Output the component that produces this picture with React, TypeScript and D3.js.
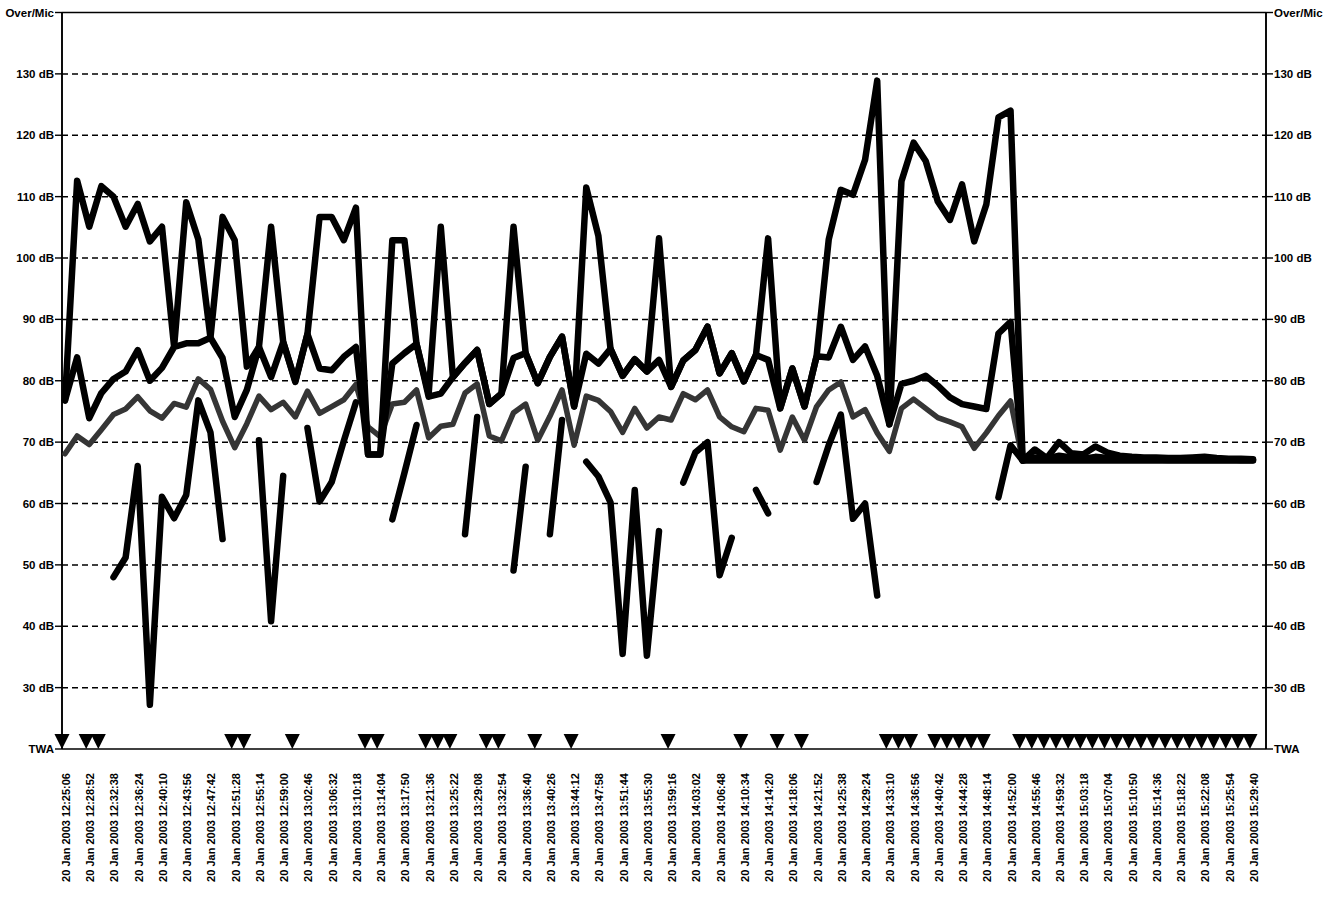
import React from 'react';
import * as d3 from 'd3';

const timeLabels = [
  '12:25:06','12:28:52','12:32:38','12:36:24','12:40:10','12:43:56','12:47:42','12:51:28','12:55:14','12:59:00',
  '13:02:46','13:06:32','13:10:18','13:14:04','13:17:50','13:21:36','13:25:22','13:29:08','13:32:54','13:36:40',
  '13:40:26','13:44:12','13:47:58','13:51:44','13:55:30','13:59:16','14:03:02','14:06:48','14:10:34','14:14:20',
  '14:18:06','14:21:52','14:25:38','14:29:24','14:33:10','14:36:56','14:40:42','14:44:28','14:48:14','14:52:00',
  '14:55:46','14:59:32','15:03:18','15:07:04','15:10:50','15:14:36','15:18:22','15:22:08','15:25:54','15:29:40',
];
const datePrefix = '20 Jan 2003';

const yTickValues = [20, 30, 40, 50, 60, 70, 80, 90, 100, 110, 120, 130, 140];
const yTickLabels = ['TWA', '30 dB', '40 dB', '50 dB', '60 dB', '70 dB', '80 dB', '90 dB', '100 dB', '110 dB', '120 dB', '130 dB', 'Over/Mic'];

const maxLevel = [
  76.8, 112.6, 105.1, 111.7, 110, 105.1, 108.8, 102.7, 105.1, 85.5,
  109.1, 103, 87, 106.7, 102.9, 82.3, 85.5, 105.1, 86.3, 80,
  87.6, 106.7, 106.7, 102.9, 108.2, 68, 68, 102.9, 102.9, 86,
  77.9, 105.1, 80.6, 82.9, 85, 76.2, 77.9, 105.1, 84.5, 79.6,
  83.9, 87.2, 75.8, 111.5, 103.6, 85.2, 80.8, 83.5, 81.5, 103.2,
  79, 83.3, 85, 88.8, 81.2, 84.5, 79.9, 84.2, 103.2, 75.5,
  82, 75.8, 84, 103, 111.1, 110.3, 116, 128.9, 72.9, 112.5,
  118.8, 115.8, 109.2, 106.2, 112, 102.7, 108.7, 122.9, 124, 67,
  68.8, 67.4, 70, 68.2, 68, 69.3, 68.3, 67.8, 67.6, 67.5,
  67.5, 67.4, 67.4, 67.5, 67.6, 67.4, 67.3, 67.3, 67.2,
];

const leqLevel = [
  76.8, 83.8, 73.9, 78, 80.3, 81.5, 85, 80, 82.1, 85.5,
  86.1, 86.1, 87, 83.7, 74.1, 78.5, 85.5, 80.6, 86.3, 79.8,
  87.6, 82, 81.7, 83.9, 85.5, 68, 68, 82.8, 84.5, 86,
  77.4, 77.9, 80.6, 82.9, 85, 76.2, 77.9, 83.7, 84.5, 79.6,
  83.9, 87.2, 75.8, 84.4, 82.8, 85.2, 80.8, 83.5, 81.5, 83.4,
  79, 83.3, 85, 88.8, 81.2, 84.5, 79.9, 84.2, 83.4, 75.5,
  82, 75.8, 84, 83.8, 88.8, 83.4, 85.6, 80.8, 72.9, 79.5,
  80, 80.8, 79.2, 77.3, 76.2, 75.8, 75.4, 87.7, 89.6, 67,
  67.5, 67.3, 67.8, 67.5, 67.3, 67.6, 67.4, 67.3, 67.3, 67.3,
  67.2, 67.3, 67.2, 67.3, 67.3, 67.2, 67.2, 67.1, 67.1,
];

const twaLevel = [
  68.1, 71, 69.6, 72, 74.5, 75.4, 77.4, 75.1, 73.9, 76.3,
  75.7, 80.3, 78.6, 73.4, 69.1, 73, 77.5, 75.3, 76.5, 74.1,
  78.3, 74.7, 75.8, 76.9, 79.4, 72.5, 70.9, 76.2, 76.5, 78.5,
  70.7, 72.6, 72.9, 78, 79.5, 71, 70.2, 74.8, 76.2, 70.3,
  74.2, 78.5, 69.5, 77.5, 76.8, 75, 71.6, 75.5, 72.3, 74.1,
  73.6, 77.9, 76.9, 78.5, 74.1, 72.5, 71.7, 75.5, 75.2, 68.7,
  74.1, 70.3, 75.8, 78.5, 79.8, 74.1, 75.3, 71.5, 68.5, 75.5,
  77, 75.5, 74, 73.3, 72.5, 69, 71.5, 74.3, 76.7, 67,
  67.2, 67.2, 67.3, 67.2, 67.2, 67.2, 67.1, 67.1, 67.1, 67.1,
  67.1, 67, 67, 67, 67, 67, 67, 67, 67,
];

const minLevel: (number | null)[] = [
  null, null, null, null, 48, 51.2, 66.1, 27.2, 61.1, 57.6,
  61.4, 76.8, 71.6, 54.2, null, null, 70.3, 40.8, 64.5, null,
  72.3, 60.3, 63.5, 70.2, 76.5, null, null, 57.4, 65, 72.8,
  null, null, null, 55, 74.1, null, null, 49.1, 66, null,
  55, 73.6, null, 66.8, 64.4, 60.2, 35.5, 62.2, 35.2, 55.5,
  null, 63.4, 68.3, 70, 48.3, 54.4, null, 62.2, 58.4, null,
  null, null, 63.5, 69.5, 74.5, 57.5, 60, 45, null, null,
  null, null, null, null, null, null, null, 61, 69.5, 67,
  67, 67, 67, 67, 67, 67, 67, 67, 67, 67,
  67, 67, 67, 67, 67, 67, 67, 67, 67,
];

const twaMarkers = [
  0, 2, 3, 14, 15, 19, 25, 26, 30, 31, 32, 35, 36, 39, 42, 50, 56, 59, 61,
  68, 69, 70, 72, 73, 74, 75, 76,
  79, 80, 81, 82, 83, 84, 85, 86, 87, 88, 89, 90, 91, 92, 93, 94, 95, 96, 97, 98,
];

const W = 1334;
const H = 907;
const plotLeft = 62;
const plotRight = 1266;
const FONT = '"Liberation Sans", Arial, Helvetica, sans-serif';

export default function App() {
  const yScale = d3.scaleLinear().domain([20, 140]).range([749, 12.5]);
  const xScale = d3.scaleLinear().domain([0, maxLevel.length - 1]).range([65, 1253]);

  const line = d3
    .line<number | null>()
    .defined((d) => d !== null)
    .x((_, i) => xScale(i))
    .y((d) => yScale(d as number));

  const yBottom = yScale(20);
  const triH = 15;
  const triW = 15;

  return (
    <svg
      width={W}
      height={H}
      viewBox={`0 0 ${W} ${H}`}
      style={{ position: 'absolute', left: 0, top: 0, background: '#fff' }}
      fontFamily={FONT}
    >
      <rect x={0} y={0} width={W} height={H} fill="#fff" />
      {yTickValues.map((v) => {
        const y = yScale(v);
        const solid = v === 20 || v === 140;
        return (
          <line
            key={'g' + v}
            x1={plotLeft}
            x2={plotRight}
            y1={y}
            y2={y}
            stroke="#000"
            strokeWidth={solid ? 1.7 : 1.5}
            strokeDasharray={solid ? undefined : '6,4'}
          />
        );
      })}
      <line x1={plotLeft} x2={plotLeft} y1={yScale(140)} y2={yBottom} stroke="#000" strokeWidth={1.9} />
      <line x1={plotRight} x2={plotRight} y1={yScale(140)} y2={yBottom} stroke="#000" strokeWidth={1.9} />
      {yTickValues.map((v, k) => {
        const y = yScale(v);
        return (
          <g key={'t' + v}>
            <line x1={plotLeft - 7} x2={plotLeft} y1={y} y2={y} stroke="#000" strokeWidth={1.4} />
            <line x1={plotRight} x2={plotRight + 7} y1={y} y2={y} stroke="#000" strokeWidth={1.4} />
            <text x={plotLeft - 8} y={y} dy="0.35em" textAnchor="end" fontSize={11.5} fontWeight="bold">
              {yTickLabels[k]}
            </text>
            <text x={plotRight + 8} y={y} dy="0.35em" textAnchor="start" fontSize={11.5} fontWeight="bold">
              {yTickLabels[k]}
            </text>
          </g>
        );
      })}
      <path d={line(twaLevel) || ''} fill="none" stroke="#353535" strokeWidth={5.5} strokeLinejoin="round" strokeLinecap="round" />
      <path d={line(minLevel) || ''} fill="none" stroke="#000" strokeWidth={6.5} strokeLinejoin="round" strokeLinecap="round" />
      <path d={line(leqLevel) || ''} fill="none" stroke="#000" strokeWidth={6.5} strokeLinejoin="round" strokeLinecap="round" />
      <path d={line(maxLevel) || ''} fill="none" stroke="#000" strokeWidth={6.5} strokeLinejoin="round" strokeLinecap="round" />
      {twaMarkers.map((i) => {
        const cx = xScale(i - 0.25);
        return (
          <path
            key={'m' + i}
            d={`M${cx - triW / 2},${yBottom - triH}L${cx + triW / 2},${yBottom - triH}L${cx},${yBottom}Z`}
            fill="#000"
          />
        );
      })}
      {timeLabels.map((t, k) => {
        const x = xScale(k * 2) + 1;
        return (
          <text
            key={'x' + k}
            transform={`translate(${x},773) rotate(-90)`}
            dy="0.36em"
            textAnchor="end"
            fontSize={11}
            fontWeight="bold"
          >
            {`${datePrefix} ${t}`}
          </text>
        );
      })}
    </svg>
  );
}
